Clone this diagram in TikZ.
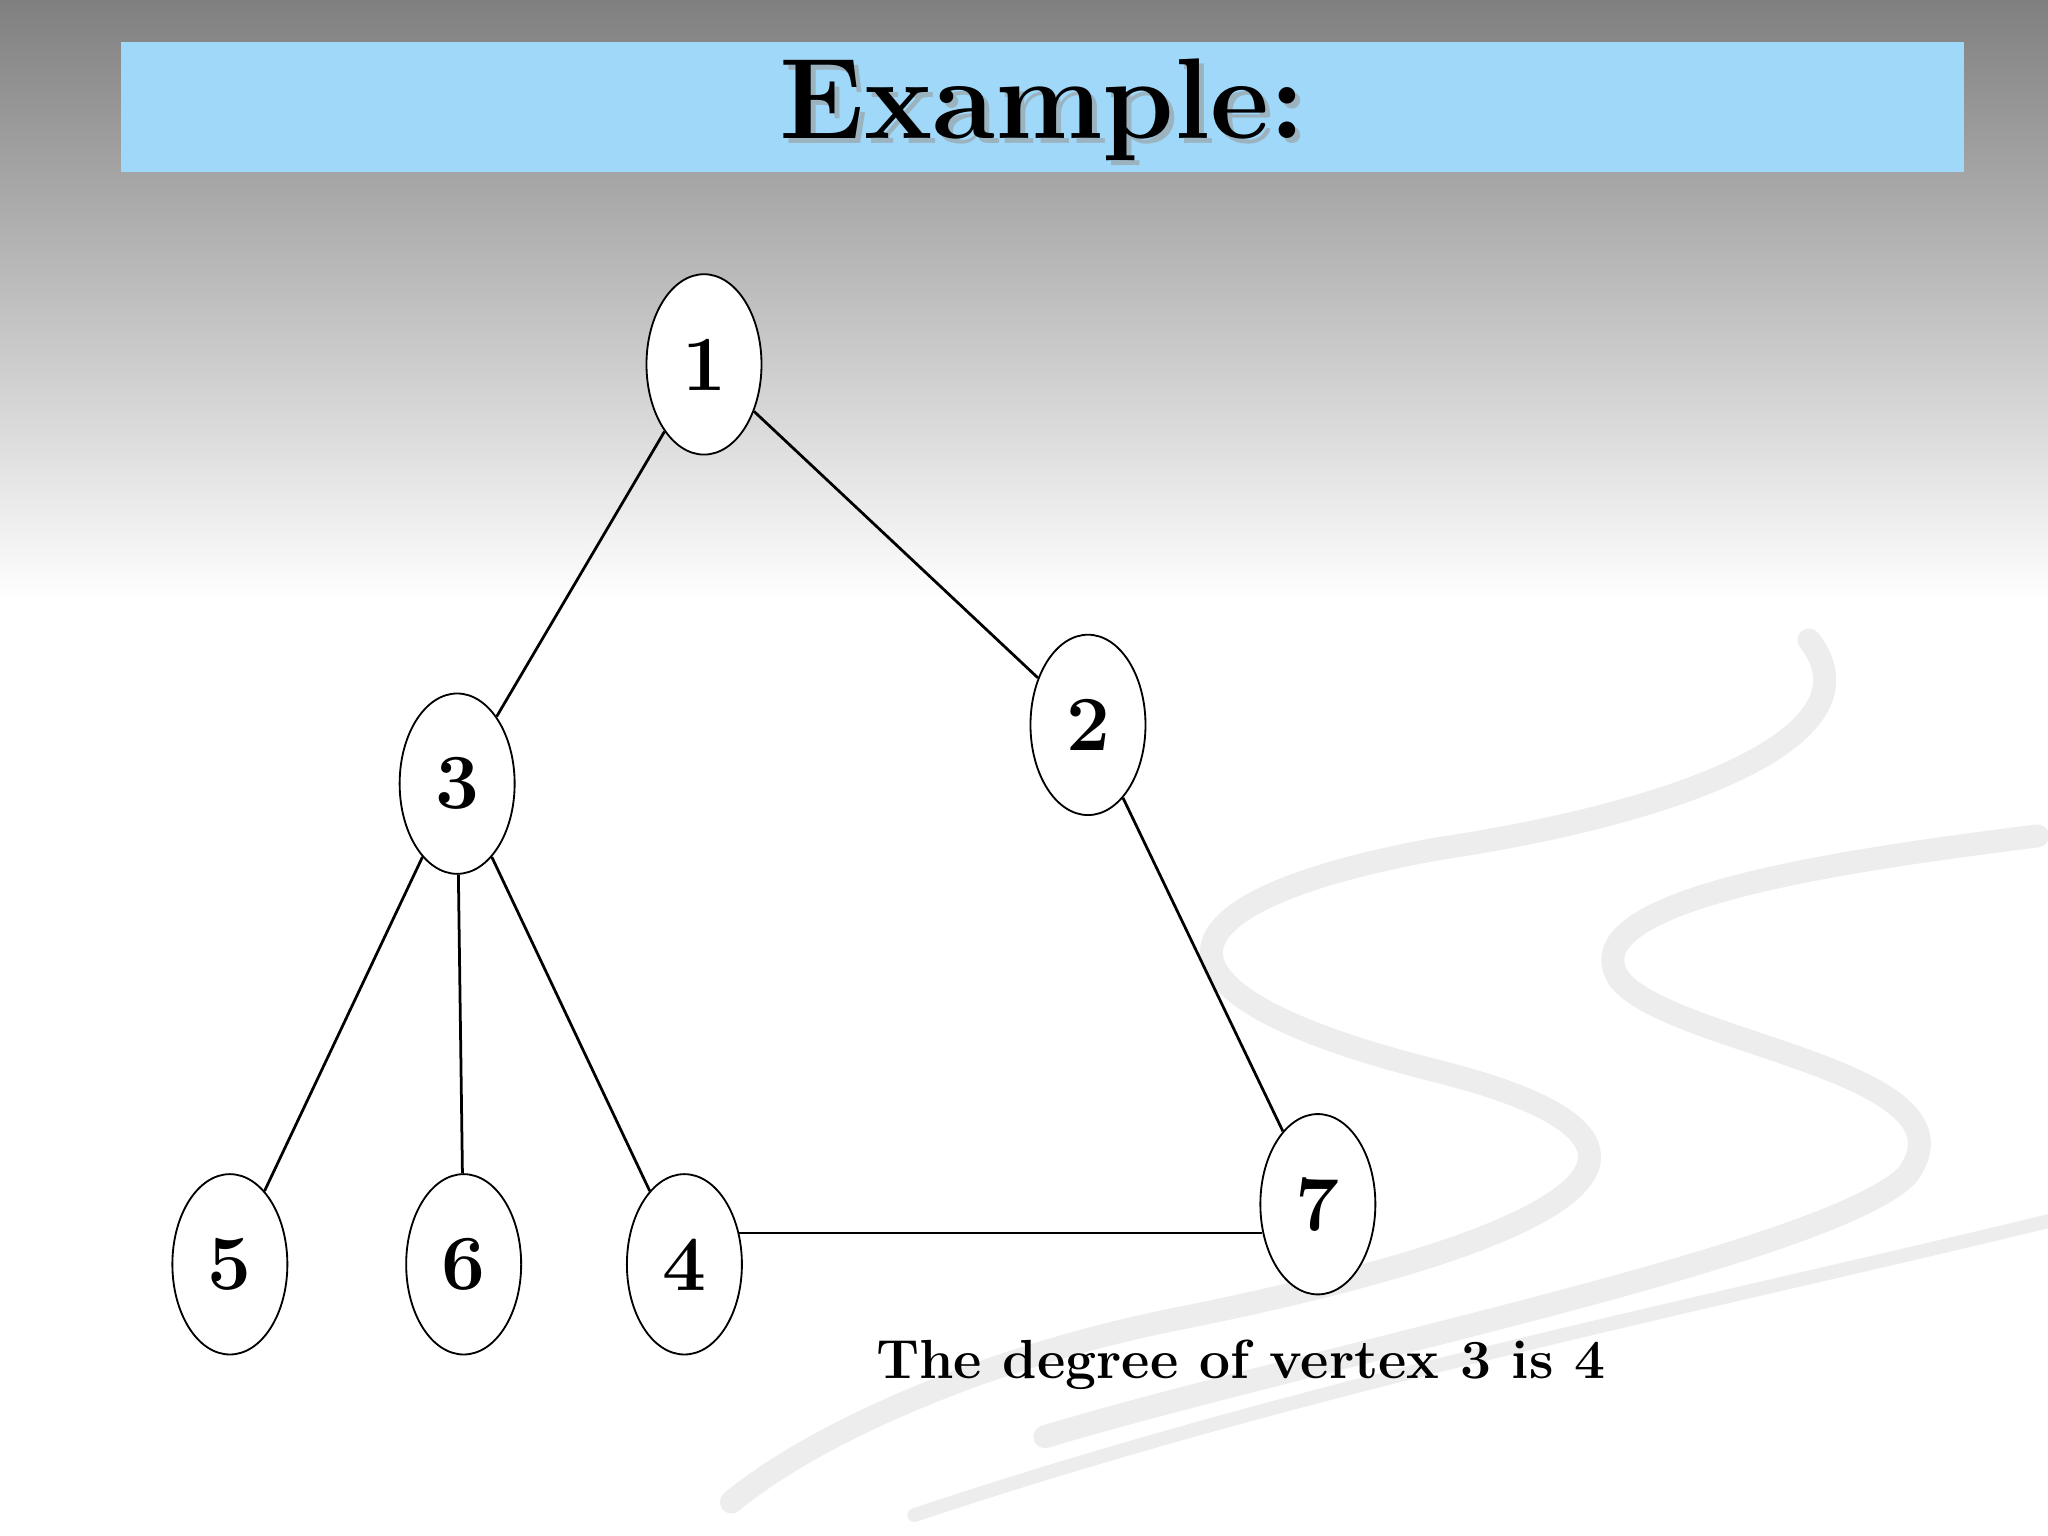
\documentclass[tikz,border=0pt]{standalone}
\usetikzlibrary{shapes.geometric}
\begin{document}
\begin{tikzpicture}[x=0.01cm,y=-0.01cm,
  v/.style={draw,ellipse,minimum width=0.88cm,minimum height=1.38cm,inner sep=0pt,fill=white,font=\fontsize{17}{20}\selectfont\bfseries},
  e/.style={draw,line width=0.6pt},
  swirl/.style={draw=gray!14,line cap=round}]
\useasboundingbox (0,0) rectangle (1568,1176);
\shade[top color=gray,bottom color=white] (0,0) rectangle (1568,460);
\fill[white] (0,460) rectangle (1568,1176);
% swirls
\draw[swirl,line width=5pt] (1385,490) .. controls (1440,560) and (1300,620) .. (1100,650) .. controls (880,690) and (860,760) .. (1100,820) .. controls (1300,870) and (1250,940) .. (900,1010) .. controls (750,1040) and (620,1100) .. (560,1150);
\draw[swirl,line width=5pt] (1560,640) .. controls (1400,660) and (1200,690) .. (1240,750) .. controls (1280,800) and (1520,820) .. (1460,900) .. controls (1400,960) and (1000,1040) .. (800,1100);
\draw[swirl,line width=3pt] (1568,935) .. controls (1300,1000) and (1000,1060) .. (700,1160);
% title
\fill[fill={rgb,255:red,160;green,216;blue,250}] (93,32) rectangle (1504,132);
\node[font=\fontsize{25}{30}\selectfont\bfseries,text=black!40,opacity=0.6] at (802,88) {Example:};
\node[font=\fontsize{25}{30}\selectfont\bfseries] (title) at (798,84) {Example:};
% nodes
\node[v] (n1) at (539,279) {1};
\node[v] (n2) at (833,555) {2};
\node[v] (n3) at (350,600) {3};
\node[v] (n5) at (176,968) {5};
\node[v] (n6) at (355,968) {6};
\node[v] (n4) at (524,968) {4};
\node[v] (n7) at (1009,922) {7};
\coordinate (a4) at (566,944);
\coordinate (a7) at (966,944);
\draw[e] (n1) -- (n3);
\draw[e] (n1) -- (n2);
\draw[e] (n2) -- (n7);
\draw[e] (n3) -- (n5);
\draw[e] (n3) -- (n6);
\draw[e] (n3) -- (n4);
\draw[e] (a4) -- (a7);
\node[font=\fontsize{12}{15}\selectfont\bfseries] (cap) at (950,1045) {The degree of vertex 3 is 4};
\end{tikzpicture}
\end{document}
